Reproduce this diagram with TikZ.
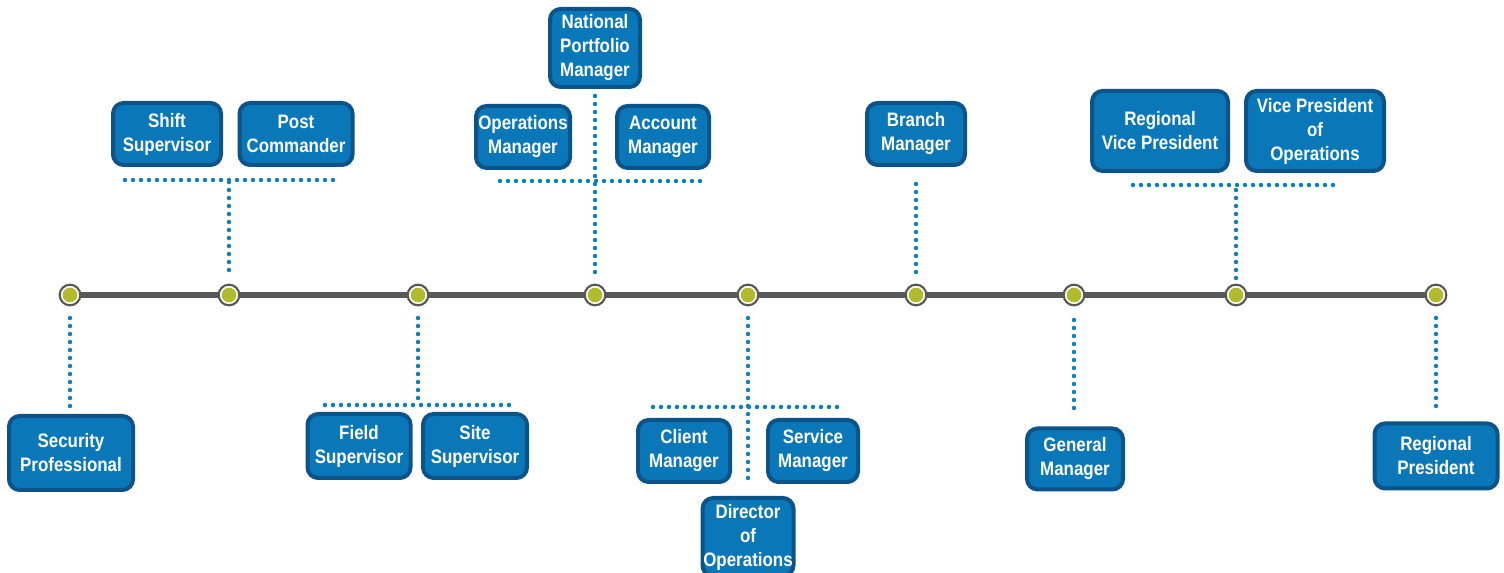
\documentclass[tikz,border=0pt]{standalone}
\usepackage{fontspec}
\setmainfont{Liberation Sans}
\newfontfamily\boxfont[FakeStretch=0.87]{Liberation Sans}
\definecolor{boxfill}{HTML}{0A78B8}
\definecolor{boxedge}{HTML}{0B5389}
\definecolor{dotblue}{HTML}{0A80C0}
\definecolor{linegray}{HTML}{585858}
\definecolor{green}{HTML}{B2BB2C}
\begin{document}
\begin{tikzpicture}[x=0.75pt,y=-0.75pt,
  box/.style={draw=boxedge, fill=boxfill, line width=3pt, rounded corners=8pt,
    text=white, align=center, inner sep=0pt,
    font=\boxfont\fontsize{14.6}{18}\selectfont\bfseries},
  dots/.style={draw=dotblue, line width=3.3pt, line cap=round, dash pattern=on 0pt off 6pt},
  tick/.style={circle, draw=linegray, fill=white, line width=1.6pt, minimum size=15.5pt, inner sep=0pt,
    path picture={\fill[green] (path picture bounding box.center) circle (5.5pt);}},
]
\useasboundingbox (0,0) rectangle (1504,573);
% timeline
\coordinate (L) at (70,295);
\coordinate (R) at (1436,295);
\draw[linegray, line width=4pt] (L) -- (R);
\foreach \n/\x in {t1/70,t2/229,t3/418,t4/595,t5/748,t6/916,t7/1074,t8/1236,t9/1436}
  \node[tick] (\n) at (\x,295) {};

% boxes
\node[box, minimum width=124*0.75pt, minimum height=74*0.75pt] (sp) at (71,453) {Security\\Professional};
\node[box, minimum width=108*0.75pt, minimum height=62*0.75pt] (ss) at (167,134) {Shift\\Supervisor};
\node[box, minimum width=113*0.75pt, minimum height=62*0.75pt] (pc) at (296,134) {Post\\Commander};
\node[box, minimum width=90*0.75pt, minimum height=78*0.75pt] (npm) at (595,48) {National\\Portfolio\\Manager};
\node[box, minimum width=94*0.75pt, minimum height=62*0.75pt] (om) at (523,137) {Operations\\Manager};
\node[box, minimum width=92*0.75pt, minimum height=62*0.75pt] (am) at (663,137) {Account\\Manager};
\node[box, minimum width=98*0.75pt, minimum height=62*0.75pt] (bm) at (916,134) {Branch\\Manager};
\node[box, minimum width=136*0.75pt, minimum height=80*0.75pt] (rvp) at (1160,131) {Regional\\Vice President};
\node[box, minimum width=138*0.75pt, minimum height=80*0.75pt] (vpo) at (1315,131) {Vice President\\of\\Operations};
\node[box, minimum width=103*0.75pt, minimum height=64*0.75pt] (fs) at (359,446) {Field\\Supervisor};
\node[box, minimum width=104*0.75pt, minimum height=64*0.75pt] (sts) at (475,446) {Site\\Supervisor};
\node[box, minimum width=92*0.75pt, minimum height=62*0.75pt] (cm) at (684,451) {Client\\Manager};
\node[box, minimum width=90*0.75pt, minimum height=62*0.75pt] (svm) at (813,451) {Service\\Manager};
\node[box, minimum width=91*0.75pt, minimum height=78*0.75pt] (doo) at (748,537) {Director\\of\\Operations};
\node[box, minimum width=96*0.75pt, minimum height=61*0.75pt] (gm) at (1075,459) {General\\Manager};
\node[box, minimum width=123*0.75pt, minimum height=65*0.75pt] (rp) at (1436,456) {Regional\\President};

% connector coordinates
\coordinate (a1) at (70,318); \coordinate (a2) at (70,410);
\coordinate (b1) at (229,270); \coordinate (b2) at (229,180);
\coordinate (b3) at (125,180); \coordinate (b4) at (333,180);
\coordinate (c1) at (418,318); \coordinate (c2) at (418,405);
\coordinate (c3) at (325,405); \coordinate (c4) at (512,405);
\coordinate (d1) at (595,272); \coordinate (d2) at (595,95);
\coordinate (d3) at (500,181); \coordinate (d4) at (701,181);
\coordinate (e1) at (748,318); \coordinate (e2) at (748,483);
\coordinate (e3) at (653,407); \coordinate (e4) at (843,407);
\coordinate (f1) at (916,272); \coordinate (f2) at (916,180);
\coordinate (g1) at (1074,320); \coordinate (g2) at (1074,413);
\coordinate (h1) at (1236,278); \coordinate (h2) at (1236,185);
\coordinate (h3) at (1133,185); \coordinate (h4) at (1340,185);
\coordinate (i1) at (1436,318); \coordinate (i2) at (1436,410);

\draw[dots] (a1) -- (a2);
\draw[dots] (b1) -- (b2); \draw[dots] (b3) -- (b4);
\draw[dots] (c1) -- (c2); \draw[dots] (c3) -- (c4);
\draw[dots] (d1) -- (d2); \draw[dots] (d3) -- (d4);
\draw[dots] (e1) -- (e2); \draw[dots] (e3) -- (e4);
\draw[dots] (f1) -- (f2);
\draw[dots] (g1) -- (g2);
\draw[dots] (h1) -- (h2); \draw[dots] (h3) -- (h4);
\draw[dots] (i1) -- (i2);
\end{tikzpicture}
\end{document}
